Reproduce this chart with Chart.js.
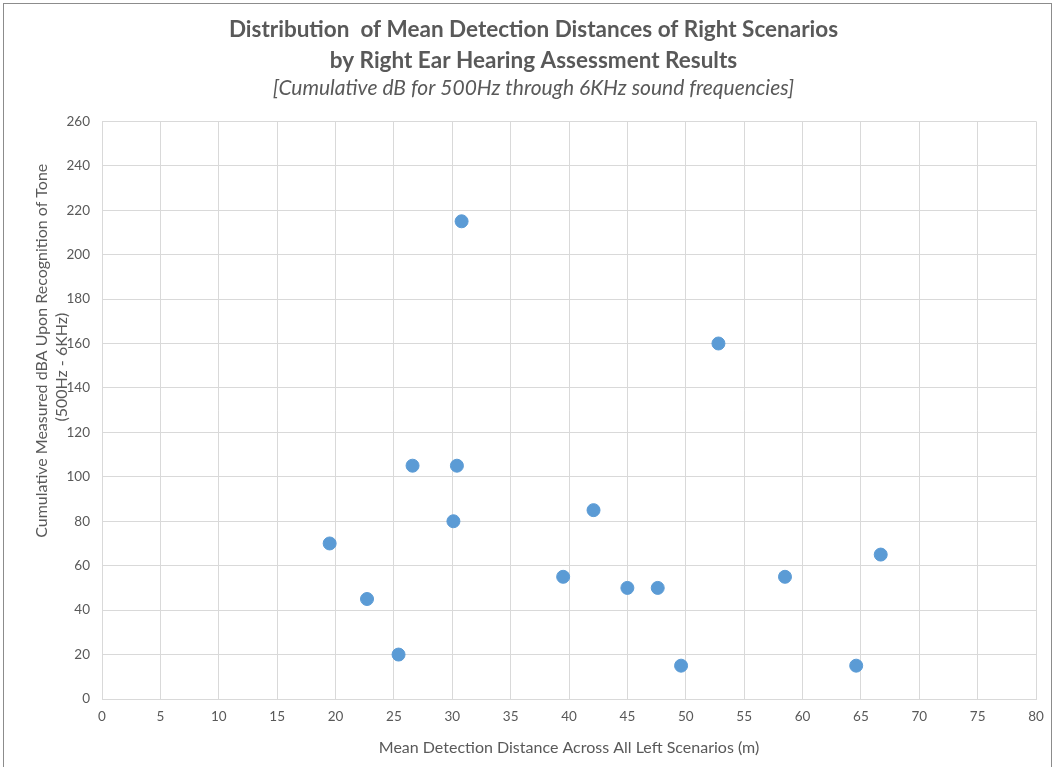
<!DOCTYPE html>
<html>
<head>
<meta charset="utf-8">
<script src="https://cdn.jsdelivr.net/npm/chart.js@4"></script>
<style>
  html,body{margin:0;padding:0;background:#fff;overflow:hidden;}
  #wrap{position:relative;width:1057px;height:767px;}
  #frame{position:absolute;left:3px;top:3px;width:1049px;height:800px;border:1px solid #8c8c8c;box-sizing:border-box;pointer-events:none;}
</style>
</head>
<body>
<div id="wrap">
  <canvas id="scatterChart"></canvas>
  <div id="frame"></div>
</div>
<script>
// Mean detection distance (m) vs cumulative dBA
const distances = [19.5, 22.7, 25.4, 26.6, 30.4, 30.1, 30.8, 39.5, 42.1, 45.0, 47.6, 49.6, 52.8, 58.5, 64.6, 66.7];
const dbaValues = [70, 45, 20, 105, 105, 80, 215, 55, 85, 50, 50, 15, 160, 55, 15, 65];
const xTicks = {min: 0, max: 80, step: 5};
const yTicks = {min: 0, max: 260, step: 20};

const font = "Lato, 'Open Sans', 'Liberation Sans', sans-serif";
const grey = '#595959';

const points = distances.map((d, i) => ({x: d, y: dbaValues[i]}));

// excel puts the y title a bit above the middle of the plot, leading spaces nudge it up
const yTitle = [' '.repeat(29) + 'Cumulative Measured dBA Upon Recognition of Tone', ' '.repeat(21) + '(500Hz - 6KHz)'];

new Chart(document.getElementById('scatterChart').getContext('2d'), {
  type: 'scatter',
  data: {
    datasets: [{
      label: 'Right scenarios',
      data: points,
      backgroundColor: '#5b9bd5',
      borderColor: '#5b9bd5',
      pointRadius: 6.5,
      pointHoverRadius: 6.5
    }]
  },
  options: {
    responsive: true,
    maintainAspectRatio: false,
    animation: false,
    layout: {padding: {left: 31, right: 21, top: 0, bottom: 10}},
    plugins: {
      legend: {display: false},
      tooltip: {enabled: false},
      title: {
        display: true,
        text: ['Distribution  of Mean Detection Distances of Right Scenarios', 'by Right Ear Hearing Assessment Results'],
        color: grey,
        font: {family: font, size: 22.5, weight: 'bold', lineHeight: 1.38},
        padding: {top: 14, bottom: 0}
      },
      subtitle: {
        display: true,
        text: '[Cumulative dB for 500Hz through 6KHz sound frequencies]',
        color: grey,
        font: {family: font, size: 21, style: 'italic', lineHeight: 1.2},
        padding: {top: 0, bottom: 20}
      }
    },
    scales: {
      x: {
        type: 'linear',
        min: xTicks.min, max: xTicks.max,
        ticks: {stepSize: xTicks.step, color: grey, font: {family: font, size: 13.5}, padding: 10},
        grid: {color: '#d9d9d9', drawTicks: false},
        border: {color: '#d9d9d9'},
        title: {display: true, text: 'Mean Detection Distance Across All Left Scenarios (m)', color: grey, font: {family: font, size: 16}, padding: {top: 6, bottom: 0}},
        afterFit: s => { s.height = 58; }
      },
      y: {
        type: 'linear',
        min: yTicks.min, max: yTicks.max,
        ticks: {stepSize: yTicks.step, color: grey, font: {family: font, size: 13.5}, padding: 12},
        grid: {color: '#d9d9d9', drawTicks: false},
        border: {color: '#d9d9d9'},
        title: {display: true, text: yTitle, color: grey, font: {family: font, size: 16, lineHeight: 1.3}, padding: {top: 0, bottom: 0}},
        afterFit: s => { s.width = 71; }
      }
    }
  }
});
</script>
</body>
</html>
